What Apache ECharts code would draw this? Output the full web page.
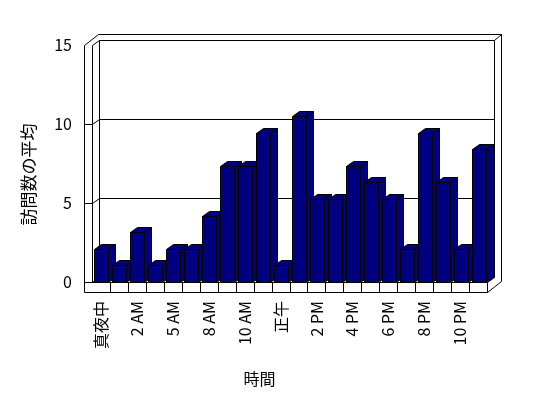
<!DOCTYPE html>
<html><head><meta charset="utf-8">
<script src="https://cdn.jsdelivr.net/npm/echarts@6/dist/echarts.min.js"></script>
<style>html,body{margin:0;padding:0;background:#fff}#c{width:548px;height:398px}</style>
</head><body><div id="c"></div>
<script>
const categories = ['真夜中','','2 AM','','5 AM','','8 AM','','10 AM','','正午','','2 PM','','4 PM','','6 PM','','8 PM','','10 PM',''];
const values = [2.1,1.05,3.15,1.05,2.1,2.1,4.2,7.35,7.35,9.45,1.05,10.5,5.25,5.25,7.35,6.3,5.25,2.1,9.45,6.3,2.1,8.4];
const yTicks = [0,5,10,15];
const xTitle = '時間';
const yTitle = '訪問数の平均';

const FONT = "'Noto Sans CJK JP', sans-serif";
const DX = 7, DY = 5;       // bar depth offset
const BAR = '#000080';

const chart = echarts.init(document.getElementById('c'), null, {renderer:'canvas'});
const r = v => Math.round(v) + 0.5;

chart.setOption({
  animation:false,
  backgroundColor:'#fff',
  grid:{left:92, right:61, top:45, bottom:116},
  xAxis:{
    type:'category', data:categories,
    axisLine:{show:false}, axisTick:{show:false},
    axisLabel:{interval:0, rotate:90, margin:19, color:'#000', fontSize:16, fontFamily:FONT},
    name:xTitle, nameLocation:'middle', nameGap:89,
    nameTextStyle:{color:'#000', fontSize:16, fontFamily:FONT, padding:[0,60,0,0]}
  },
  yAxis:{
    type:'value', min:yTicks[0], max:yTicks[yTicks.length-1], interval:5,
    axisLine:{show:false}, axisTick:{show:false}, splitLine:{show:false},
    axisLabel:{margin:20, color:'#000', fontSize:16, fontFamily:FONT},
    name:yTitle, nameLocation:'middle', nameGap:55,
    nameTextStyle:{color:'#000', fontSize:17, fontFamily:FONT, padding:[0,22,0,0]}
  },
  series:[{
    type:'custom',
    data:values.map((v,i)=>[i,v]),
    encode:{x:0,y:1},
    z:5,
    renderItem:function(params, api){
      const i = api.value(0), v = api.value(1);
      const top = api.coord([i, v]);
      const base = api.coord([i, 0]);
      const band = api.size([1,0])[0];
      const w = Math.round(band*0.8);
      const x0 = r(top[0] - w/2 + 0.5), x1 = x0 + w;
      const y0 = r(top[1]), y1 = r(base[1]);
      const st = {fill:BAR, stroke:'#000', lineWidth:1};
      return {type:'group', children:[
        {type:'polygon', shape:{points:[[x1,y0],[x1+DX,y0-DY],[x1+DX,y1-DY],[x1,y1]]}, style:st},
        {type:'polygon', shape:{points:[[x0,y0],[x0+DX,y0-DY],[x1+DX,y0-DY],[x1,y0]]}, style:st},
        {type:'rect', shape:{x:x0,y:y0,width:w,height:y1-y0}, style:st}
      ]};
    }
  }]
});

// 3D box frame, positioned from the axes
(function(){
  const yPix = v => chart.convertToPixel({yAxisIndex:0}, v);
  const xPix = i => chart.convertToPixel({xAxisIndex:0}, i);
  const band = xPix(1) - xPix(0);
  const L = Math.round(xPix(0) - band/2), R = Math.round(xPix(categories.length-1) + band/2);
  const T = Math.round(yPix(yTicks[yTicks.length-1])), B = Math.round(yPix(0));
  const W = 8, F = 10, D1x = 7, D1y = 5, D2x = 14, D2y = 11;
  const p = (x,y)=>[x+0.5,y+0.5];
  const ln = pts => ({type:'polyline', shape:{points:pts.map(q=>p(q[0],q[1]))}, style:{stroke:'#000', lineWidth:1, fill:null}, z:0, silent:true});
  const g = [];
  g.push({type:'polygon', shape:{points:[p(L-W,B+F),p(L-W,T),p(L-W+D2x,T-D2y),p(R+D2x,T-D2y),p(R+D2x,B+F-D2y),p(R,B+F)]},
          style:{fill:'#fff', stroke:'#000', lineWidth:1}, z:-1, silent:true});
  g.push(ln([[L,T],[L,B]]));
  g.push(ln([[L,T],[L+D1x,T-D1y]]));
  g.push(ln([[L+D1x,T-D1y],[R+D1x,T-D1y],[R+D1x,B-D1y],[L+D1x,B-D1y],[L+D1x,T-D1y]]));
  g.push(ln([[R+D1x,T-D1y],[R+D2x,T-D2y]]));
  g.push(ln([[L-W,B],[L,B],[R,B],[R,B+F]]));
  g.push(ln([[L,B],[L+D1x,B-D1y]]));
  g.push(ln([[R,B],[R+D1x,B-D1y]]));
  yTicks.slice(1,-1).forEach(v=>{
    const y = Math.round(yPix(v));
    g.push(ln([[L-W,y],[L,y],[L+D1x,y-D1y],[R+D1x,y-D1y]]));
  });
  for(let k=1;k<categories.length;k++){
    const x = Math.round(L + k*band);
    g.push(ln([[x,B],[x,B+F]]));
  }
  chart.setOption({graphic:{elements:g}});
})();
</script>
</body></html>
